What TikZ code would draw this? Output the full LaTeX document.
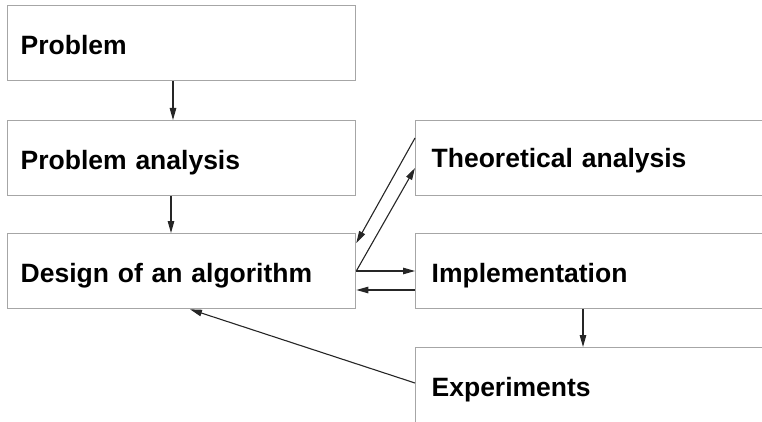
\documentclass[tikz,border=0pt]{standalone}
\usepackage{fontspec}
\setmainfont{Liberation Sans}
\usepackage{tikz}
\usetikzlibrary{arrows.meta,positioning}
\tikzset{
  stagebox/.style={draw=black!35,line width=1.3pt,rectangle,anchor=north west,
    minimum width=348pt,minimum height=75pt,text width=322pt,align=left,
    inner xsep=13pt,text height=22pt,text depth=0pt,
    font=\fontsize{26.5}{31}\selectfont\bfseries},
  widebox/.style={stagebox,minimum width=380pt,text width=348pt,inner xsep=16pt},
  flow/.style={-{Triangle[length=12pt,width=6.5pt]},line width=1.1pt,black!85}
}

\begin{document}
\begin{tikzpicture}[x=1pt,y=-1pt]
\useasboundingbox (0,0) rectangle (762,422);
\node[stagebox] (problem) at (7,5) {Problem};
\node[stagebox] (analysis) at (7,120) {Problem analysis};
\node[stagebox] (design) at (7,233) {Design of an algorithm};
\node[widebox,text height=19pt] (theory) at (415,120) {Theoretical analysis};
\node[widebox] (impl) at (415,233) {Implementation};
\node[widebox] (exper) at (415,347) {Experiments};
\draw[flow] ([xshift=166pt]problem.south west) -- ([xshift=166pt]analysis.north west);
\draw[flow] ([xshift=164pt]analysis.south west) -- ([xshift=164pt]design.north west);
\draw[flow] ([yshift=-18pt]theory.north west) -- ([yshift=-10pt]design.north east);
\draw[flow] ([yshift=-38pt]design.north east) -- ([yshift=-48pt]theory.north west);
\draw[flow] ([yshift=-38pt]design.north east) -- ([yshift=-38pt]impl.north west);
\draw[flow] ([yshift=-57pt]impl.north west) -- ([yshift=-57pt]design.north east);
\draw[flow] ([xshift=168pt]impl.south west) -- ([xshift=168pt]exper.north west);
\draw[flow] ([yshift=-36pt]exper.north west) -- ([xshift=183pt]design.south west);
\end{tikzpicture}
\end{document}
